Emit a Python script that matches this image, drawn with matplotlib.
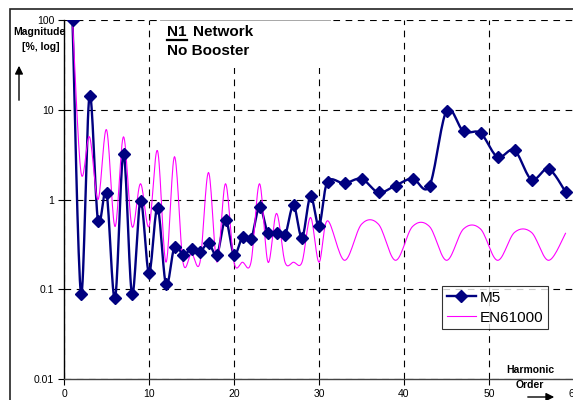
import numpy as np
import matplotlib
matplotlib.use("Agg")
from matplotlib import pyplot as plt
from matplotlib.lines import Line2D
from matplotlib.patches import Rectangle

plt.rcParams['font.family'] = ['Liberation Sans', 'DejaVu Sans']

# harmonic orders (every order up to 31, odd ones after that)
orders = list(range(1, 32)) + list(range(33, 60, 2))

m5 = [100, 0.089, 14.3, 0.58, 1.19, 0.079, 3.24, 0.089, 0.97, 0.152,
      0.81, 0.113, 0.298, 0.243, 0.278, 0.262, 0.327, 0.243, 0.595, 0.243,
      0.38, 0.36, 0.83, 0.42, 0.42, 0.40, 0.86, 0.376, 1.09, 0.51,
      1.57, 1.51, 1.70, 1.20, 1.43, 1.71, 1.42, 9.67, 5.74, 5.50,
      2.98, 3.53, 1.67, 2.19, 1.22]

en61000 = [100, 2.0, 5.0, 1.0, 6.0, 0.5, 5.0, 0.5, 1.5, 0.5,
           3.5, 0.2, 3.0, 0.2, 0.25, 0.2, 2.0, 0.2, 1.5, 0.2,
           0.2, 0.2, 1.5, 0.2, 0.7, 0.2, 0.2, 0.2, 0.63, 0.2,
           0.58, 0.21, 0.53, 0.53, 0.21, 0.5, 0.5, 0.21, 0.47, 0.47,
           0.21, 0.43, 0.43, 0.21, 0.42]

y_ticks = [0.01, 0.1, 1, 10, 100]
y_tick_labels = ['0.01', '0.1', '1', '10', '100']
x_ticks = [0, 10, 20, 30, 40, 50, 60]


def smooth(xs, ys, n=16):
    # Excel style smoothed line (Catmull-Rom in screen space, log y)
    P = np.column_stack([np.asarray(xs, float), np.log10(ys)])
    P = np.vstack([P[0], P, P[-1]])
    t = np.linspace(0, 1, n, endpoint=False)[:, None]
    out = []
    for i in range(1, len(P) - 2):
        p0, p1, p2, p3 = P[i - 1], P[i], P[i + 1], P[i + 2]
        seg = 0.5 * (2 * p1 + (-p0 + p2) * t
                     + (2 * p0 - 5 * p1 + 4 * p2 - p3) * t ** 2
                     + (-p0 + 3 * p1 - 3 * p2 + p3) * t ** 3)
        out.append(seg)
    out.append(P[-2][None, :])
    c = np.vstack(out)
    return c[:, 0], 10 ** c[:, 1]


W, H = 573, 400
fig = plt.figure(figsize=(W / 100, H / 100), dpi=100)

# chart area border
fig.add_artist(Rectangle((10 / W, -0.1), 1.0, 1 - 9 / H + 0.1, transform=fig.transFigure,
                         fill=False, edgecolor='#222222', lw=1.2))

ax = fig.add_axes([64 / W, 21 / H, 510 / W, 359 / H])
ax.set_yscale('log')
ax.set_xlim(0, 60)
ax.set_ylim(0.01, 100)
ax.set_yticks(y_ticks)
ax.set_yticklabels(y_tick_labels)
ax.minorticks_off()
ax.set_xticks(x_ticks)
ax.tick_params(axis='both', labelsize=7.5, direction='out', length=4, width=0.8)
ax.tick_params(axis='y', pad=3)
ax.tick_params(axis='x', pad=3)
for s in ['top', 'right']:
    ax.spines[s].set_visible(False)
ax.spines['left'].set_linewidth(1.0)
ax.spines['bottom'].set_linewidth(1.0)
ax.spines['bottom'].set_color('#444444')
ax.grid(True, which='major', color='black', linestyle=(0, (6, 5)), lw=0.8)
ax.set_facecolor('none')

# white box behind the title text
ax.add_patch(Rectangle((0.188, 0.866), 0.334, 0.134, transform=ax.transAxes,
                       facecolor='white', edgecolor='none', zorder=2, clip_on=False))
ax.plot([0.188, 0.522], [0.999, 0.999], transform=ax.transAxes, color='#999999', lw=0.6, zorder=2.1)

sx, sy = smooth(orders, m5)
ax.plot(sx, sy, color='#000080', lw=1.7, zorder=3)
ex, ey = smooth(orders, en61000)
ax.plot(ex, ey, color='#FF00FF', lw=0.8, zorder=4)
ax.plot(orders, m5, linestyle='none', marker='D', markersize=6, color='#000080', zorder=5)

handles = [Line2D([], [], color='#000080', lw=1.7, marker='D', markersize=6),
           Line2D([], [], color='#FF00FF', lw=0.8)]
leg = ax.legend(handles, ['M5', 'EN61000'], loc='upper left',
                bbox_to_anchor=(442 / W, 1 - 286 / H), bbox_transform=fig.transFigure,
                fontsize=11, frameon=True, fancybox=False, handlelength=1.9,
                handletextpad=0.3, labelspacing=0.4, borderpad=0.3, borderaxespad=0)
leg.get_frame().set_edgecolor('black')
leg.get_frame().set_linewidth(0.8)
leg.set_zorder(6)

# title text with underlined N1
t1 = fig.text(167 / W, 1 - 36 / H, 'N1', fontsize=11, fontweight='bold', va='baseline')
fig.text(193 / W, 1 - 36 / H, 'Network', fontsize=11, fontweight='bold', va='baseline')
fig.text(167 / W, 1 - 55 / H, 'No Booster', fontsize=11, fontweight='bold', va='baseline')
fig.canvas.draw()
bb = t1.get_window_extent(fig.canvas.get_renderer())
fig.add_artist(Line2D([bb.x0 / W, bb.x1 / W], [1 - 39.5 / H, 1 - 39.5 / H],
                      transform=fig.transFigure, color='black', lw=1.6))

# axis captions
fig.text(39 / W, 1 - 35 / H, 'Magnitude', fontsize=7.5, fontweight='bold', ha='center', va='baseline')
fig.text(41 / W, 1 - 50 / H, '[%, log]', fontsize=7.5, fontweight='bold', ha='center', va='baseline')
fig.text(530 / W, 1 - 373 / H, 'Harmonic', fontsize=7.5, fontweight='bold', ha='center', va='baseline')
fig.text(530 / W, 1 - 388 / H, 'Order', fontsize=7.5, fontweight='bold', ha='center', va='baseline')

ax.annotate('', xy=(19 / W, 1 - 63 / H), xytext=(19 / W, 1 - 103 / H),
            xycoords='figure fraction', textcoords='figure fraction',
            arrowprops=dict(arrowstyle='-|>', color='black', lw=1, mutation_scale=12))
ax.annotate('', xy=(557 / W, 1 - 397 / H), xytext=(525 / W, 1 - 397 / H),
            xycoords='figure fraction', textcoords='figure fraction',
            arrowprops=dict(arrowstyle='-|>', color='black', lw=1, mutation_scale=12))

fig.savefig('out.png', dpi=100)
